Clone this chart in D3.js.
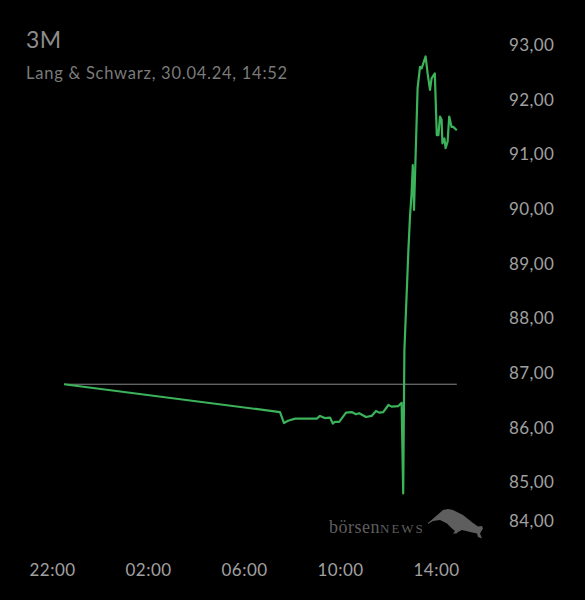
<!DOCTYPE html>
<html>
<head>
<meta charset="utf-8">
<script src="https://cdn.jsdelivr.net/npm/d3@7"></script>
<style>
  html, body { margin: 0; padding: 0; background: #000; }
  svg { display: block; }
</style>
</head>
<body>
<div id="chart"></div>
<script>
// quote series
var times = [
  "2024-04-29 22:30", "2024-04-30 07:30", "2024-04-30 07:40", "2024-04-30 07:50",
  "2024-04-30 08:08", "2024-04-30 09:02", "2024-04-30 09:10", "2024-04-30 09:22",
  "2024-04-30 09:35", "2024-04-30 09:42", "2024-04-30 09:47", "2024-04-30 09:58",
  "2024-04-30 10:15", "2024-04-30 10:29", "2024-04-30 10:40", "2024-04-30 10:48",
  "2024-04-30 11:05", "2024-04-30 11:19", "2024-04-30 11:30", "2024-04-30 11:38",
  "2024-04-30 11:48", "2024-04-30 12:01", "2024-04-30 12:09", "2024-04-30 12:26",
  "2024-04-30 12:34", "2024-04-30 12:38", "2024-04-30 12:41", "2024-04-30 12:43",
  "2024-04-30 12:47", "2024-04-30 12:51", "2024-04-30 12:55", "2024-04-30 12:59",
  "2024-04-30 13:02", "2024-04-30 13:05", "2024-04-30 13:14", "2024-04-30 13:20",
  "2024-04-30 13:24", "2024-04-30 13:34", "2024-04-30 13:39", "2024-04-30 13:45",
  "2024-04-30 13:49", "2024-04-30 13:57", "2024-04-30 14:02", "2024-04-30 14:06",
  "2024-04-30 14:10", "2024-04-30 14:14", "2024-04-30 14:16", "2024-04-30 14:21",
  "2024-04-30 14:24", "2024-04-30 14:29", "2024-04-30 14:33", "2024-04-30 14:39",
  "2024-04-30 14:43", "2024-04-30 14:52"
];
var prices = [
  86.79, 86.28, 86.08, 86.12,
  86.16, 86.16, 86.21, 86.17,
  86.18, 86.07, 86.10, 86.10,
  86.27, 86.28, 86.24, 86.26,
  86.19, 86.21, 86.30, 86.27,
  86.28, 86.41, 86.38, 86.39,
  86.45, 84.79, 87.41, 87.78,
  88.51, 89.25, 89.86, 90.29,
  90.80, 89.98, 92.21, 92.60,
  92.57, 92.79, 92.48, 92.18,
  92.39, 92.48, 91.35, 91.35,
  91.69, 91.63, 91.20, 91.29,
  91.11, 91.23, 91.69, 91.50,
  91.50, 91.44
];
var previousClose = 86.79;

var yTicks = [84, 85, 86, 87, 88, 89, 90, 91, 92, 93];
var xTicks = ["2024-04-29 22:00", "2024-04-30 02:00", "2024-04-30 06:00", "2024-04-30 10:00", "2024-04-30 14:00"];

var title = "3M";
var subtitle = "Lang & Schwarz, 30.04.24, 14:52";

var width = 585, height = 600;
var parseTime = d3.timeParse("%Y-%m-%d %H:%M");
var font = "Lato, 'Open Sans', sans-serif";

var data = times.map(function(t, i) { return {date: parseTime(t), value: prices[i]}; });

var svg = d3.select("#chart")
  .append("svg")
    .attr("width", width)
    .attr("height", height)
    .style("background", "#000");

var x = d3.scaleTime()
  .domain([parseTime(xTicks[0]), parseTime(xTicks[4])])
  .range([52, 436]);

var y = d3.scaleLinear()
  .domain([85, 93])
  .range([482, 45]);

// title
svg.append("text")
  .attr("x", 26)
  .attr("y", 48)
  .style("font-family", font)
  .style("font-size", "23px")
  .style("letter-spacing", "0.5px")
  .style("fill", "#8c8c8c")
  .text(title);

svg.append("text")
  .attr("x", 26)
  .attr("y", 78.5)
  .style("font-family", font)
  .style("font-size", "16.5px")
  .style("letter-spacing", "0.75px")
  .style("fill", "#7a7a7a")
  .text(subtitle);

// y axis labels on the right, lowest one pushed up to stay in view
var fmt = function(v) { return d3.format(".2f")(v).replace(".", ","); };
svg.append("g")
  .attr("transform", "translate(509,0)")
  .call(d3.axisRight(y).tickValues(yTicks).tickSize(0).tickPadding(0).tickFormat(fmt))
  .call(function(g) { g.select(".domain").remove(); })
  .call(function(g) {
    g.selectAll(".tick").attr("transform", function(d) { return "translate(0," + Math.min(y(d), 521) + ")"; });
    g.selectAll("text")
      .attr("x", 0)
      .attr("dy", "0.36em")
      .style("text-anchor", "start")
      .style("font-family", font)
      .style("font-size", "17px")
      .style("letter-spacing", "0.4px")
      .style("fill", "#a0a0a0");
  });

// x axis labels
svg.append("g")
  .attr("transform", "translate(0,570)")
  .call(d3.axisBottom(x).tickValues(xTicks.map(parseTime)).tickSize(0).tickPadding(0).tickFormat(d3.timeFormat("%H:%M")))
  .call(function(g) { g.select(".domain").remove(); })
  .call(function(g) {
    g.selectAll("text")
      .attr("y", 0)
      .attr("dy", "0.36em")
      .style("font-family", font)
      .style("font-size", "17px")
      .style("letter-spacing", "0.5px")
      .style("fill", "#a0a0a0");
  });

// watermark
var wm = svg.append("g").style("fill", "#5e5e5e");
wm.append("text")
  .attr("x", 329)
  .attr("y", 533)
  .style("font-family", "'Liberation Serif', 'DejaVu Serif', serif")
  .style("font-size", "18px")
  .style("letter-spacing", "0.5px")
  .text("börsen")
  .append("tspan")
    .style("font-size", "13px")
    .style("letter-spacing", "2px")
    .text("NEWS");
wm.append("path")
  .attr("transform", "translate(428,508)")
  .attr("d", "M0,15 L7,9 L15,2 L20,1 L25,2 L35,7 L45,15 L50,18.5 L54,18 L55,20.5 L52,25.5 L54,30.5 L50,29 L49,25.5 L42,24 L34,22 L30,24 L28.5,25.5 L25,25.5 L27,23 L24,20.5 L19,15.5 L12,12 L5,13 L0,16 Z");

// previous close reference line
svg.append("line")
  .attr("x1", x(data[0].date))
  .attr("x2", x(data[data.length - 1].date))
  .attr("y1", y(previousClose))
  .attr("y2", y(previousClose))
  .style("stroke", "#8a8a8a")
  .style("stroke-width", 1);

// price line
var line = d3.line()
  .x(function(d) { return x(d.date); })
  .y(function(d) { return y(d.value); });

svg.append("path")
  .datum(data)
  .attr("d", line)
  .style("fill", "none")
  .style("stroke", "#3cb35a")
  .style("stroke-width", 2.2)
  .style("stroke-linejoin", "round");
</script>
</body>
</html>
